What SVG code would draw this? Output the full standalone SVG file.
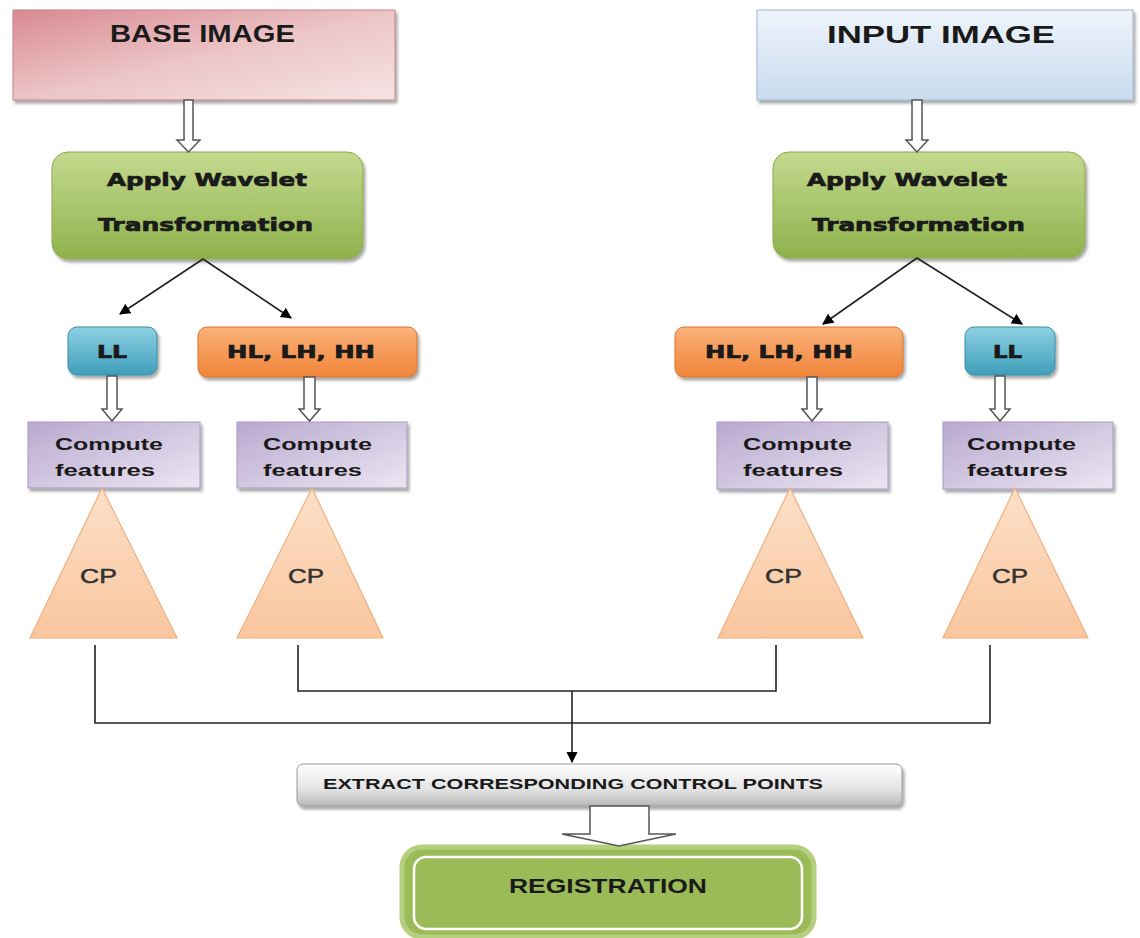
<svg xmlns="http://www.w3.org/2000/svg" width="1140" height="938" viewBox="0 0 1140 938">
<defs>
<linearGradient id="gBase" x1="0" y1="0" x2="1" y2="1"><stop offset="0" stop-color="#d88a92"/><stop offset="0.5" stop-color="#ecc4c6"/><stop offset="1" stop-color="#f6e4e4"/></linearGradient>
<linearGradient id="gInput" x1="0" y1="0" x2="0" y2="1"><stop offset="0" stop-color="#eef4fb"/><stop offset="1" stop-color="#c9dbee"/></linearGradient>
<linearGradient id="gGreen" x1="0" y1="0" x2="0" y2="1"><stop offset="0" stop-color="#c4da8f"/><stop offset="1" stop-color="#8fb24c"/></linearGradient>
<linearGradient id="gLL" x1="0" y1="0" x2="0" y2="1"><stop offset="0" stop-color="#8fd0e2"/><stop offset="1" stop-color="#3f9fbb"/></linearGradient>
<linearGradient id="gHL" x1="0" y1="0" x2="0" y2="1"><stop offset="0" stop-color="#fbb27a"/><stop offset="1" stop-color="#f0843a"/></linearGradient>
<linearGradient id="gCF" x1="0" y1="0" x2="1" y2="1"><stop offset="0" stop-color="#b8a9d0"/><stop offset="1" stop-color="#ece6f2"/></linearGradient>
<linearGradient id="gTri" x1="0" y1="0" x2="0" y2="1"><stop offset="0" stop-color="#fde0c8"/><stop offset="1" stop-color="#f9c69e"/></linearGradient>
<linearGradient id="gExt" x1="0" y1="0" x2="0" y2="1"><stop offset="0" stop-color="#ffffff"/><stop offset="0.6" stop-color="#e3e3e3"/><stop offset="1" stop-color="#b8b8b8"/></linearGradient>
<filter id="sh" x="-10%" y="-10%" width="125%" height="135%"><feDropShadow dx="2" dy="3" stdDeviation="1.5" flood-color="#000" flood-opacity="0.35"/></filter>
<marker id="ah" viewBox="0 0 10 10" refX="9" refY="5" markerWidth="7" markerHeight="7" orient="auto"><path d="M0,0 L10,5 L0,10 z" fill="#000"/></marker>
</defs>
<style>
.bt{font-family:"Liberation Sans",Arial,sans-serif;font-weight:bold;fill:#1a1a1a}
.vt{font-family:"DejaVu Sans",Verdana,sans-serif;font-weight:bold;fill:#1a1a1a;stroke:#1a1a1a;stroke-width:0.7}
.cp{font-family:"Liberation Sans",Arial,sans-serif;font-weight:normal;fill:#333;stroke:#333;stroke-width:0.5}
.hol{fill:#ffffff;stroke:#555;stroke-width:1.5}
.ln{fill:none;stroke:#222;stroke-width:1.6}
</style>
<rect width="1140" height="938" fill="#ffffff"/>

<g id="base-image">
<rect x="13" y="10" width="382" height="90" fill="url(#gBase)" stroke="#c98088" stroke-width="1" filter="url(#sh)"/>
<text class="bt" x="110" y="42" font-size="23" textLength="185" lengthAdjust="spacingAndGlyphs">BASE IMAGE</text>
</g>
<g id="input-image">
<rect x="757" y="10" width="376" height="90" fill="url(#gInput)" stroke="#9fb6cf" stroke-width="1" filter="url(#sh)"/>
<text class="bt" x="827" y="43" font-size="23" textLength="228" lengthAdjust="spacingAndGlyphs">INPUT IMAGE</text>
</g>

<g id="wavelet-left">
<rect x="52" y="152" width="311" height="107" rx="16" fill="url(#gGreen)" stroke="#8aa94c" stroke-width="1" filter="url(#sh)"/>
<text class="vt" x="107" y="186" font-size="18" textLength="200" lengthAdjust="spacingAndGlyphs">Apply Wavelet</text>
<text class="vt" x="98" y="231" font-size="18" textLength="215" lengthAdjust="spacingAndGlyphs">Transformation</text>
</g>
<g id="wavelet-right">
<rect x="773" y="152" width="312" height="106" rx="16" fill="url(#gGreen)" stroke="#8aa94c" stroke-width="1" filter="url(#sh)"/>
<text class="vt" x="807" y="186" font-size="18" textLength="200" lengthAdjust="spacingAndGlyphs">Apply Wavelet</text>
<text class="vt" x="812" y="231" font-size="18" textLength="213" lengthAdjust="spacingAndGlyphs">Transformation</text>
</g>

<g id="ll-left">
<rect x="68" y="327" width="89" height="48" rx="9" fill="url(#gLL)" stroke="#3a8ea8" stroke-width="1" filter="url(#sh)"/>
<text class="vt" x="97" y="358" font-size="17" textLength="30" lengthAdjust="spacingAndGlyphs">LL</text>
</g>
<g id="hl-left">
<rect x="198" y="327" width="219" height="50" rx="9" fill="url(#gHL)" stroke="#d9742f" stroke-width="1" filter="url(#sh)"/>
<text class="vt" x="227" y="358" font-size="17" textLength="148" lengthAdjust="spacingAndGlyphs">HL, LH, HH</text>
</g>
<g id="hl-right">
<rect x="675" y="327" width="228" height="50" rx="9" fill="url(#gHL)" stroke="#d9742f" stroke-width="1" filter="url(#sh)"/>
<text class="vt" x="705" y="358" font-size="17" textLength="148" lengthAdjust="spacingAndGlyphs">HL, LH, HH</text>
</g>
<g id="ll-right">
<rect x="965" y="327" width="90" height="48" rx="9" fill="url(#gLL)" stroke="#3a8ea8" stroke-width="1" filter="url(#sh)"/>
<text class="vt" x="993" y="358" font-size="17" textLength="29" lengthAdjust="spacingAndGlyphs">LL</text>
</g>

<g id="cf-1">
<rect x="28" y="422" width="172" height="66" fill="url(#gCF)" stroke="#a899c0" stroke-width="1" filter="url(#sh)"/>
<text class="bt" x="55" y="450" font-size="17" textLength="108" lengthAdjust="spacingAndGlyphs">Compute</text>
<text class="bt" x="55" y="476" font-size="17" textLength="100" lengthAdjust="spacingAndGlyphs">features</text>
</g>
<g id="cf-2">
<rect x="237" y="422" width="170" height="66" fill="url(#gCF)" stroke="#a899c0" stroke-width="1" filter="url(#sh)"/>
<text class="bt" x="263" y="450" font-size="17" textLength="109" lengthAdjust="spacingAndGlyphs">Compute</text>
<text class="bt" x="263" y="476" font-size="17" textLength="99" lengthAdjust="spacingAndGlyphs">features</text>
</g>
<g id="cf-3">
<rect x="717" y="422" width="171" height="67" fill="url(#gCF)" stroke="#a899c0" stroke-width="1" filter="url(#sh)"/>
<text class="bt" x="743" y="450" font-size="17" textLength="109" lengthAdjust="spacingAndGlyphs">Compute</text>
<text class="bt" x="743" y="476" font-size="17" textLength="100" lengthAdjust="spacingAndGlyphs">features</text>
</g>
<g id="cf-4">
<rect x="943" y="422" width="170" height="67" fill="url(#gCF)" stroke="#a899c0" stroke-width="1" filter="url(#sh)"/>
<text class="bt" x="967" y="450" font-size="17" textLength="109" lengthAdjust="spacingAndGlyphs">Compute</text>
<text class="bt" x="967" y="476" font-size="17" textLength="101" lengthAdjust="spacingAndGlyphs">features</text>
</g>

<g id="cp-1">
<polygon points="102,488 177,638 30,638" fill="url(#gTri)" stroke="#f0b080" stroke-width="1.2"/>
<text class="cp" x="80" y="583" font-size="21" textLength="37" lengthAdjust="spacingAndGlyphs">CP</text>
</g>
<g id="cp-2">
<polygon points="312,488 383,638 237,638" fill="url(#gTri)" stroke="#f0b080" stroke-width="1.2"/>
<text class="cp" x="288" y="583" font-size="21" textLength="36" lengthAdjust="spacingAndGlyphs">CP</text>
</g>
<g id="cp-3">
<polygon points="790,488 863,638 718,638" fill="url(#gTri)" stroke="#f0b080" stroke-width="1.2"/>
<text class="cp" x="765" y="583" font-size="21" textLength="37" lengthAdjust="spacingAndGlyphs">CP</text>
</g>
<g id="cp-4">
<polygon points="1015,488 1088,638 943,638" fill="url(#gTri)" stroke="#f0b080" stroke-width="1.2"/>
<text class="cp" x="992" y="583" font-size="21" textLength="36" lengthAdjust="spacingAndGlyphs">CP</text>
</g>

<g id="extract">
<rect x="297" y="764" width="605" height="42" rx="6" fill="url(#gExt)" stroke="#9a9a9a" stroke-width="1" filter="url(#sh)"/>
<text class="bt" x="323" y="789" font-size="15" textLength="500" lengthAdjust="spacingAndGlyphs">EXTRACT CORRESPONDING CONTROL  POINTS</text>
</g>

<g id="registration">
<rect x="402" y="847" width="412" height="90" rx="20" fill="#9bbb59" stroke="#b5cf7f" stroke-width="5"/>
<rect x="414" y="857" width="388" height="72" rx="12" fill="#9bbb59" stroke="#ffffff" stroke-width="2.5"/>
<text class="bt" x="509" y="893" font-size="20" textLength="198" lengthAdjust="spacingAndGlyphs">REGISTRATION</text>
</g>

<g id="connectors">
<path class="hol" d="M184,100 L193,100 L193,140 L200,140 L188.5,152 L177,140 L184,140 Z"/>
<path class="hol" d="M912,100 L922,100 L922,140 L928,140 L917,152 L906,140 L912,140 Z"/>
<path class="hol" d="M107,376 L117,376 L117,409 L122,409 L112,421 L102,409 L107,409 Z"/>
<path class="hol" d="M304,377 L315,377 L315,409 L320,409 L309.5,421 L299,409 L304,409 Z"/>
<path class="hol" d="M807,377 L817,377 L817,409 L822,409 L812,421 L802,409 L807,409 Z"/>
<path class="hol" d="M995,376 L1005,376 L1005,409 L1010,409 L1000,421 L990,409 L995,409 Z"/>
<path class="hol" d="M590,806 L649,806 L649,834 L676,834 L619,846 L562,834 L590,834 Z"/>
<line class="ln" x1="203" y1="259" x2="120" y2="314" marker-end="url(#ah)"/>
<line class="ln" x1="203" y1="259" x2="291" y2="318" marker-end="url(#ah)"/>
<line class="ln" x1="917" y1="258" x2="823" y2="324" marker-end="url(#ah)"/>
<line class="ln" x1="917" y1="258" x2="1022" y2="324" marker-end="url(#ah)"/>
<polyline class="ln" points="298,645 298,691 776,691 776,645"/>
<polyline class="ln" points="95,645 95,723 990,723 990,645"/>
<line class="ln" x1="572" y1="691" x2="572" y2="762" marker-end="url(#ah)"/>
</g>
</svg>
